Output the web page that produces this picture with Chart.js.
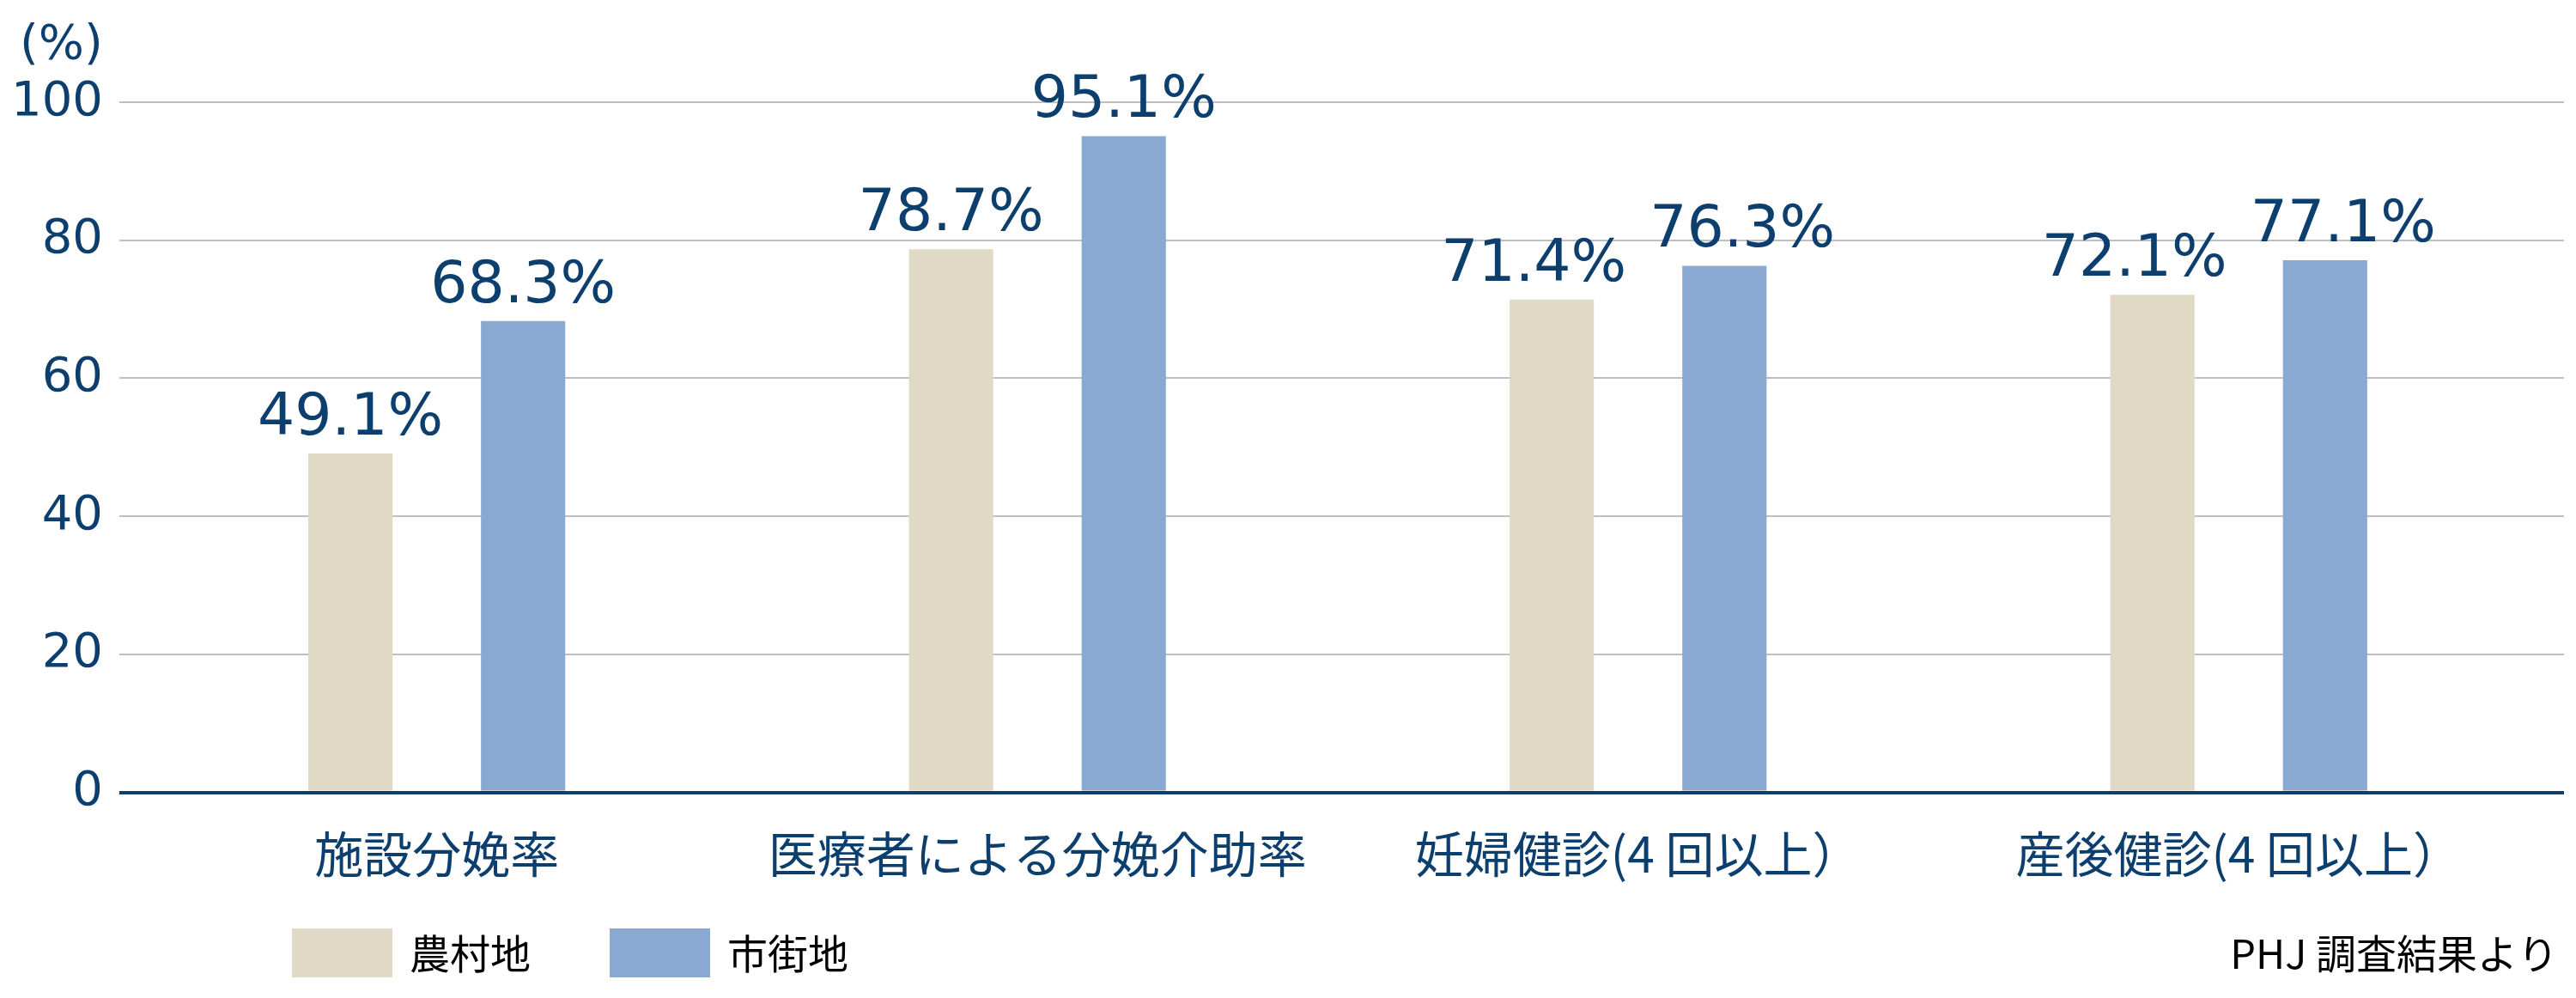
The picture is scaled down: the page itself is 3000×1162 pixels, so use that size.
<!DOCTYPE html>
<html lang="ja">
<head>
<meta charset="utf-8">
<script src="https://cdn.jsdelivr.net/npm/chart.js@4.4.1/dist/chart.umd.min.js"></script>
<style>
    html, body { margin: 0; padding: 0; background: #fff; }
    .chart-box { width: 3000px; height: 1162px; position: relative; }
</style>
</head>
<body>
<div class="chart-box"><canvas class="bar-chart"></canvas></div>
<script>
const categories = ['施設分娩率', '医療者による分娩介助率', '妊婦健診(4 回以上）', '産後健診(4 回以上）'];
const rural_values = [49.1, 78.7, 71.4, 72.1];
const urban_values = [68.3, 95.1, 76.3, 77.1];
const series_names = ['農村地', '市街地'];
const y_ticks = [0, 20, 40, 60, 80, 100];
const unit_label = '(%)';
const source_note = 'PHJ 調査結果より';

const navy = '#0d3f6e';
const gridGray = '#bfbfbf';
const jpFont = '"Noto Sans CJK JP", "Noto Sans", sans-serif';
const numFont = '"DejaVu Sans", Verdana, sans-serif';

// fixed tick set for both y axes
function useTicks(axis) {
    axis.ticks = y_ticks.map(v => ({ value: v }));
}

// zero line navy and thick, the rest light gray
const gridColor = c => (c.tick && c.tick.value === 0) ? navy : gridGray;
const gridWidth = c => (c.tick && c.tick.value === 0) ? 4 : 2;

// value labels above each bar, pushed apart when a pair would collide
const valueLabels = {
    id: 'valueLabels',
    afterDatasetsDraw(chart) {
        const ctx = chart.ctx;
        const gap = 27;
        const textH = 55;
        ctx.save();
        ctx.fillStyle = navy;
        ctx.font = '68px ' + numFont;
        ctx.textAlign = 'center';
        ctx.textBaseline = 'alphabetic';
        const left = chart.getDatasetMeta(0).data;
        const right = chart.getDatasetMeta(1).data;
        chart.data.labels.forEach((cat, j) => {
            const t0 = chart.data.datasets[0].data[j].toFixed(1) + '%';
            const t1 = chart.data.datasets[1].data[j].toFixed(1) + '%';
            const w0 = ctx.measureText(t0).width;
            const w1 = ctx.measureText(t1).width;
            let x0 = left[j].x, x1 = right[j].x;
            const y0 = left[j].y - 22, y1 = right[j].y - 22;
            const overlap = (x0 + w0 / 2 + gap) - (x1 - w1 / 2);
            if (overlap > 0 && Math.abs(y0 - y1) < textH) {
                x0 -= overlap / 2;
                x1 += overlap / 2;
            }
            ctx.fillText(t0, x0, y0);
            ctx.fillText(t1, x1, y1);
        });
        ctx.restore();
    }
};

// unit above the y axis, legend boxes bottom left, source note bottom right
const extraText = {
    id: 'extraText',
    afterDraw(chart) {
        const ctx = chart.ctx;
        const boxLeft = [340, 710];
        ctx.save();
        ctx.fillStyle = navy;
        ctx.font = '56px ' + numFont;
        ctx.textAlign = 'left';
        ctx.textBaseline = 'middle';
        ctx.fillText(unit_label, 23, 53);

        ctx.font = '47px ' + jpFont;
        chart.data.datasets.forEach((ds, i) => {
            ctx.fillStyle = ds.backgroundColor;
            ctx.fillRect(boxLeft[i], 1081, 117, 57);
            ctx.fillStyle = '#000';
            ctx.textAlign = 'left';
            ctx.fillText(ds.label, boxLeft[i] + 137, 1110);
        });
        ctx.fillStyle = '#000';
        ctx.textAlign = 'right';
        ctx.fillText(source_note, 2979, 1110);
        ctx.restore();
    }
};

const ctx1 = document.querySelector('.bar-chart').getContext('2d');

const bar_chart = new Chart(ctx1, {
    type: 'bar',
    data: {
        labels: categories,
        datasets: [{
            label: series_names[0],
            data: rural_values,
            backgroundColor: '#e0d9c6',
            borderWidth: 0,
            categoryPercentage: 0.575,
            barPercentage: 0.488,
        }, {
            label: series_names[1],
            data: urban_values,
            backgroundColor: '#89a9d3',
            borderWidth: 0,
            categoryPercentage: 0.575,
            barPercentage: 0.488,
        }]
    },
    options: {
        responsive: true,
        maintainAspectRatio: false,
        animation: false,
        layout: {
            padding: { left: -6, right: 14, top: 119, bottom: 95 }
        },
        plugins: {
            legend: { display: false },
            tooltip: { enabled: false }
        },
        scales: {
            x: {
                z: 1,
                grid: { display: false, drawTicks: false },
                border: { display: true, color: navy, width: 4 },
                ticks: {
                    color: navy,
                    font: { family: jpFont, size: 57 },
                    padding: 38,
                    maxRotation: 0,
                    autoSkip: false
                }
            },
            y: {
                min: 0,
                max: 100,
                afterBuildTicks: useTicks,
                border: { display: false },
                grid: {
                    color: gridColor,
                    lineWidth: gridWidth,
                    tickLength: 20
                },
                ticks: {
                    color: navy,
                    font: { family: numFont, size: 56 },
                    padding: 19
                }
            },
            y2: {
                type: 'linear',
                position: 'right',
                min: 0,
                max: 100,
                afterBuildTicks: useTicks,
                border: { display: false },
                grid: {
                    drawOnChartArea: false,
                    color: gridColor,
                    lineWidth: gridWidth,
                    tickLength: 29
                },
                ticks: { display: false }
            }
        }
    },
    plugins: [valueLabels, extraText]
});
</script>
</body>
</html>
